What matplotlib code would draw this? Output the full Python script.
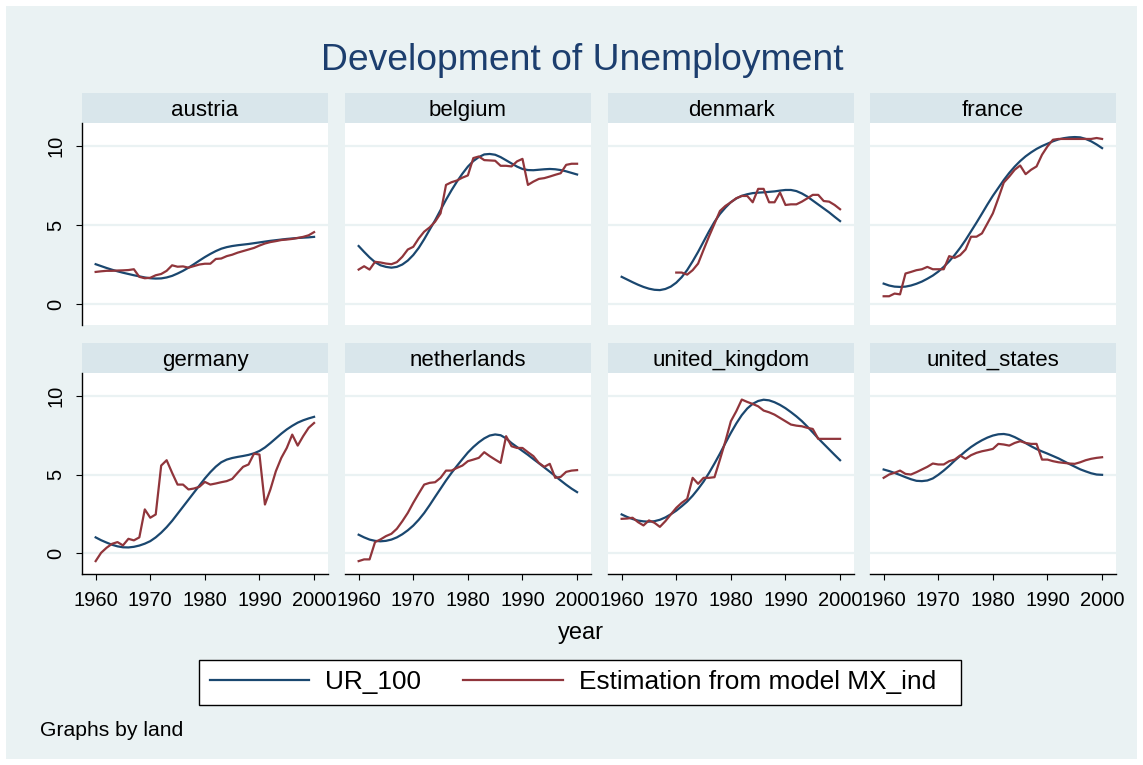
import matplotlib
matplotlib.use("Agg")
import matplotlib.pyplot as plt
from matplotlib.patches import Rectangle

plt.rcParams['font.family'] = ['Liberation Sans', 'DejaVu Sans']

# Data
years = list(range(1960, 2001))
countries = ['austria', 'belgium', 'denmark', 'france',
             'germany', 'netherlands', 'united_kingdom', 'united_states']

austria_ur = [2.52, 2.40, 2.28, 2.17, 2.07, 1.98, 1.90, 1.82, 1.75, 1.68, 1.63, 1.61, 1.62, 1.68,
              1.78, 1.93, 2.10, 2.30, 2.52, 2.75, 2.97, 3.17, 3.35, 3.50, 3.60, 3.67, 3.72, 3.76,
              3.80, 3.85, 3.90, 3.95, 4.00, 4.04, 4.08, 4.12, 4.15, 4.18, 4.20, 4.22, 4.25]
austria_est = [2.03, 2.07, 2.10, 2.10, 2.12, 2.13, 2.15, 2.20, 1.72, 1.63, 1.66, 1.82, 1.90, 2.10,
               2.45, 2.36, 2.38, 2.30, 2.40, 2.50, 2.55, 2.55, 2.85, 2.88, 3.03, 3.12, 3.25, 3.35,
               3.45, 3.55, 3.70, 3.83, 3.92, 3.98, 4.05, 4.08, 4.12, 4.18, 4.25, 4.35, 4.55]

belgium_ur = [3.67, 3.30, 2.95, 2.65, 2.45, 2.35, 2.30, 2.35, 2.50, 2.75, 3.10, 3.55, 4.10, 4.70,
              5.30, 5.95, 6.60, 7.20, 7.75, 8.25, 8.70, 9.05, 9.30, 9.47, 9.50, 9.45, 9.30, 9.10,
              8.90, 8.70, 8.55, 8.48, 8.47, 8.50, 8.53, 8.55, 8.53, 8.48, 8.40, 8.30, 8.20]
belgium_est = [2.18, 2.39, 2.18, 2.67, 2.63, 2.56, 2.52, 2.65, 2.99, 3.45, 3.62, 4.15, 4.58, 4.85,
               5.21, 5.74, 7.54, 7.71, 7.82, 8.00, 8.14, 9.24, 9.34, 9.11, 9.09, 9.07, 8.75, 8.75,
               8.71, 9.03, 9.19, 7.54, 7.75, 7.92, 7.97, 8.07, 8.18, 8.28, 8.81, 8.88, 8.88]

denmark_ur = [1.72, 1.55, 1.38, 1.22, 1.08, 0.97, 0.90, 0.88, 0.95, 1.10, 1.35, 1.70, 2.15, 2.70,
              3.30, 3.95, 4.60, 5.20, 5.70, 6.10, 6.45, 6.68, 6.85, 6.95, 7.02, 7.05, 7.07, 7.10,
              7.13, 7.18, 7.22, 7.22, 7.15, 7.00, 6.80, 6.55, 6.30, 6.05, 5.80, 5.52, 5.25]
denmark_est = [None] * 10 + [1.99, 1.99, 1.86, 2.14, 2.56, 3.43, 4.28, 5.08, 5.89, 6.21, 6.44,
                             6.70, 6.84, 6.84, 6.44, 7.29, 7.29, 6.44, 6.44, 7.06, 6.27, 6.31,
                             6.31, 6.48, 6.69, 6.91, 6.91, 6.52, 6.48, 6.27, 6.00]

france_ur = [1.29, 1.17, 1.10, 1.08, 1.10, 1.17, 1.28, 1.42, 1.60, 1.80, 2.05, 2.35, 2.70, 3.10,
             3.55, 4.05, 4.60, 5.15, 5.72, 6.30, 6.85, 7.35, 7.85, 8.30, 8.70, 9.05, 9.35, 9.60,
             9.82, 10.00, 10.15, 10.30, 10.42, 10.50, 10.55, 10.57, 10.55, 10.45, 10.30, 10.10, 9.87]
france_est = [0.49, 0.49, 0.66, 0.61, 1.93, 2.03, 2.14, 2.20, 2.35, 2.20, 2.20, 2.20, 3.03, 2.92,
              3.09, 3.45, 4.26, 4.26, 4.47, 5.10, 5.74, 6.69, 7.69, 8.07, 8.50, 8.77, 8.22, 8.50,
              8.71, 9.45, 9.98, 10.40, 10.45, 10.45, 10.45, 10.45, 10.45, 10.45, 10.45, 10.51, 10.45]

germany_ur = [1.00, 0.82, 0.67, 0.53, 0.43, 0.37, 0.36, 0.40, 0.48, 0.60, 0.76, 1.00, 1.30, 1.65,
              2.05, 2.50, 2.95, 3.40, 3.85, 4.30, 4.75, 5.15, 5.50, 5.78, 5.95, 6.05, 6.12, 6.18,
              6.25, 6.35, 6.50, 6.72, 7.00, 7.30, 7.60, 7.87, 8.10, 8.30, 8.45, 8.57, 8.67]
germany_est = [-0.51, 0.02, 0.34, 0.59, 0.70, 0.49, 0.91, 0.81, 1.00, 2.78, 2.25, 2.46, 5.57, 5.91,
               5.11, 4.36, 4.36, 4.05, 4.11, 4.22, 4.53, 4.36, 4.43, 4.51, 4.58, 4.72, 5.11, 5.49,
               5.64, 6.33, 6.27, 3.09, 4.05, 5.21, 6.06, 6.69, 7.54, 6.84, 7.44, 7.97, 8.28]

netherlands_ur = [1.17, 1.00, 0.86, 0.78, 0.75, 0.78, 0.86, 1.00, 1.20, 1.45, 1.75, 2.12, 2.55, 3.05,
                  3.58, 4.10, 4.62, 5.10, 5.55, 5.98, 6.40, 6.75, 7.05, 7.30, 7.48, 7.55, 7.50, 7.30,
                  7.00, 6.75, 6.50, 6.25, 5.98, 5.72, 5.45, 5.18, 4.90, 4.62, 4.35, 4.10, 3.88]
netherlands_est = [-0.51, -0.40, -0.40, 0.70, 0.87, 1.08, 1.23, 1.55, 2.03, 2.56, 3.20, 3.79, 4.36,
                   4.47, 4.51, 4.79, 5.25, 5.25, 5.42, 5.57, 5.85, 5.95, 6.06, 6.42, 6.17, 5.95, 5.74,
                   7.44, 6.80, 6.69, 6.69, 6.42, 6.17, 5.74, 5.49, 5.68, 4.79, 4.85, 5.17, 5.25, 5.28]

uk_ur = [2.46, 2.30, 2.17, 2.07, 2.02, 2.00, 2.03, 2.12, 2.27, 2.47, 2.70, 2.98, 3.28, 3.65,
         4.08, 4.55, 5.10, 5.70, 6.33, 7.00, 7.65, 8.25, 8.78, 9.20, 9.50, 9.68, 9.76, 9.72,
         9.60, 9.43, 9.22, 8.97, 8.70, 8.40, 8.05, 7.68, 7.30, 6.95, 6.60, 6.25, 5.91]
uk_est = [2.18, 2.20, 2.25, 1.97, 1.76, 2.08, 1.93, 1.67, 2.03, 2.46, 2.88, 3.20, 3.45, 4.79,
          4.41, 4.79, 4.79, 4.83, 5.95, 7.12, 8.39, 9.03, 9.77, 9.62, 9.49, 9.34, 9.07, 8.96,
          8.81, 8.60, 8.39, 8.18, 8.11, 8.07, 7.97, 7.90, 7.27, 7.27, 7.27, 7.27, 7.27]

us_ur = [5.32, 5.22, 5.10, 4.97, 4.83, 4.70, 4.60, 4.58, 4.62, 4.75, 4.98, 5.25, 5.55, 5.88,
         6.18, 6.48, 6.75, 6.98, 7.18, 7.35, 7.48, 7.56, 7.58, 7.52, 7.38, 7.20, 7.00, 6.80,
         6.62, 6.47, 6.33, 6.18, 6.03, 5.85, 5.67, 5.50, 5.33, 5.20, 5.08, 5.00, 4.98]
us_est = [4.79, 5.00, 5.11, 5.25, 5.04, 5.00, 5.15, 5.32, 5.49, 5.70, 5.64, 5.64, 5.85, 5.95,
          6.21, 6.00, 6.23, 6.38, 6.48, 6.55, 6.63, 6.95, 6.91, 6.84, 7.01, 7.12, 7.01, 6.95,
          6.95, 5.95, 5.95, 5.85, 5.78, 5.74, 5.70, 5.68, 5.78, 5.91, 6.00, 6.06, 6.10]

ur_series = [austria_ur, belgium_ur, denmark_ur, france_ur,
             germany_ur, netherlands_ur, uk_ur, us_ur]
est_series = [austria_est, belgium_est, denmark_est, france_est,
              germany_est, netherlands_est, uk_est, us_est]

W, H = 1143, 765
bg = '#EAF2F3'
strip = '#D9E6EB'
navy = '#1A476F'
maroon = '#90353B'


def rect(x0, y0, x1, y1):
    # pixel box (top-left origin) -> figure fraction
    return [x0 / W, 1 - y1 / H, (x1 - x0) / W, (y1 - y0) / H]


fig = plt.figure(figsize=(W / 100, H / 100), dpi=100)
fig.patch.set_facecolor('white')
fig.patches.append(Rectangle((6 / W, 6 / H), 1 - 12 / W, 1 - 12 / H, transform=fig.transFigure,
                             facecolor=bg, edgecolor='none', zorder=-10))

col_x = [82, 345, 608, 870]
panel_w = 246
row_y = [(93, 123, 325), (343, 373, 574)]

for i, name in enumerate(countries):
    r, c = divmod(i, 4)
    x0 = col_x[c]
    x1 = x0 + panel_w
    hy0, py0, py1 = row_y[r]

    # strip header
    hax = fig.add_axes(rect(x0, hy0, x1, py0))
    hax.set_facecolor(strip)
    hax.set_xticks([])
    hax.set_yticks([])
    for s in hax.spines.values():
        s.set_visible(False)
    hax.text(0.5, 0.23, name, ha='center', va='baseline', fontsize=16, transform=hax.transAxes)

    ax = fig.add_axes(rect(x0, py0, x1, py1))
    ax.set_facecolor('white')
    ax.plot(years, ur_series[i], color=navy, lw=1.6, zorder=3)
    est = est_series[i]
    ex = [y for y, v in zip(years, est) if v is not None]
    ey = [v for v in est if v is not None]
    ax.plot(ex, ey, color=maroon, lw=1.6, zorder=4)

    ax.set_xlim(1957.5, 2002.55)
    ax.set_ylim(-1.33, 11.46)
    ax.set_yticks([0, 5, 10])
    ax.set_xticks([1960, 1970, 1980, 1990, 2000])
    ax.yaxis.grid(True, color=bg, lw=1.6)
    ax.set_axisbelow(True)
    for s in ax.spines.values():
        s.set_visible(False)

    if c == 0:
        ax.spines['left'].set_visible(True)
        ax.spines['left'].set_linewidth(1.0)
        ax.tick_params(axis='y', length=4, width=0.8, pad=8, labelsize=14.5)
        for lab in ax.get_yticklabels():
            lab.set_rotation(90)
            lab.set_va('center')
    else:
        ax.tick_params(axis='y', length=0, labelleft=False)

    if r == 1:
        ax.spines['bottom'].set_visible(True)
        ax.spines['bottom'].set_linewidth(1.0)
        ax.tick_params(axis='x', length=4, width=0.8, pad=8, labelsize=14.5)
    else:
        ax.tick_params(axis='x', length=0, labelbottom=False)

fig.text(582 / W, 1 - 60 / H, 'Development of Unemployment', ha='center', va='center',
         fontsize=26.8, color='#1C3E6E')
fig.text(581 / W, 1 - 633 / H, 'year', ha='center', va='center', fontsize=17)
fig.text(40 / W, 1 - 731 / H, 'Graphs by land', ha='left', va='center', fontsize=15.2)

handles = [plt.Line2D([], [], color=navy, lw=1.6),
           plt.Line2D([], [], color=maroon, lw=1.6)]
leg = fig.legend(handles, ['UR_100', 'Estimation from model MX_ind  '], ncol=2,
                 loc='center', bbox_to_anchor=(580 / W, 1 - 682 / H), fontsize=18.9,
                 frameon=True, fancybox=False, edgecolor='black', facecolor='white',
                 framealpha=1, handlelength=3.8, handletextpad=0.6, columnspacing=1.6,
                 borderpad=0.4, borderaxespad=0)
leg.get_frame().set_linewidth(1.0)

fig.savefig('out.png', dpi=100, facecolor=fig.get_facecolor())
